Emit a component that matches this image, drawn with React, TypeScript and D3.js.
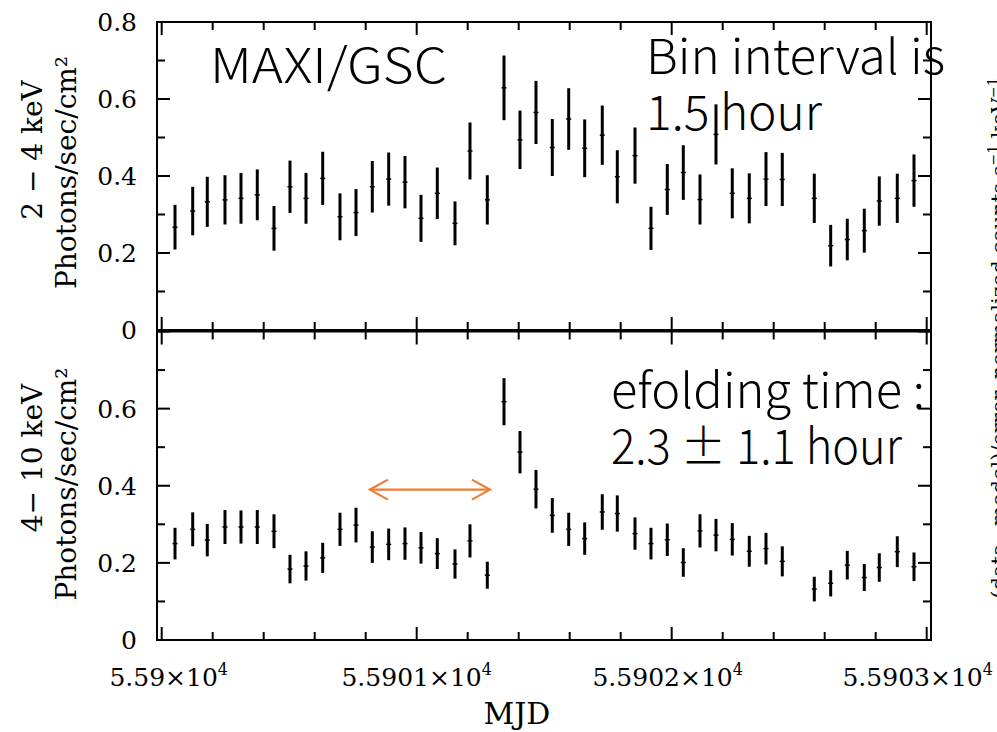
import React from 'react';
import * as d3 from 'd3';

// ---- data ----
const mjd = [
  55900.0522, 55900.1216, 55900.1788, 55900.2482, 55900.311, 55900.3749, 55900.4404, 55900.5031, 55900.5659,
  55900.6314, 55900.6992, 55900.762, 55900.8259, 55900.8902, 55900.9541, 55901.0169, 55901.0808, 55901.1502,
  55901.209, 55901.2769, 55901.3424, 55901.4051, 55901.4678, 55901.5318, 55901.5961, 55901.6588, 55901.7278,
  55901.7867, 55901.8561, 55901.9188, 55901.9827, 55902.0455, 55902.111, 55902.1737, 55902.2376, 55902.3043,
  55902.3698, 55902.4337, 55902.5592, 55902.6235, 55902.6886, 55902.7553, 55902.8141, 55902.8847, 55902.9502,
];
const soft = [
  0.267, 0.309, 0.333, 0.338, 0.342, 0.351, 0.264, 0.372, 0.342, 0.394, 0.294, 0.305, 0.372, 0.392, 0.384,
  0.29, 0.355, 0.277, 0.465, 0.338, 0.629, 0.494, 0.565, 0.474, 0.548, 0.472, 0.506, 0.398, 0.453, 0.264,
  0.365, 0.409, 0.339, 0.508, 0.355, 0.342, 0.392, 0.391, 0.342, 0.219, 0.235, 0.258, 0.335, 0.342, 0.388,
];
const softErr = [
  0.058, 0.063, 0.065, 0.064, 0.066, 0.066, 0.058, 0.068, 0.066, 0.069, 0.061, 0.061, 0.067, 0.069, 0.068,
  0.061, 0.067, 0.057, 0.074, 0.064, 0.084, 0.076, 0.082, 0.074, 0.08, 0.075, 0.077, 0.069, 0.073, 0.056,
  0.066, 0.071, 0.065, 0.078, 0.065, 0.065, 0.07, 0.069, 0.064, 0.054, 0.054, 0.057, 0.064, 0.064, 0.068,
];
const hard = [
  0.25, 0.287, 0.259, 0.293, 0.293, 0.293, 0.282, 0.184, 0.192, 0.213, 0.287, 0.298, 0.241, 0.248, 0.25,
  0.239, 0.224, 0.197, 0.257, 0.168, 0.618, 0.487, 0.391, 0.323, 0.287, 0.263, 0.332, 0.328, 0.276, 0.25,
  0.26, 0.201, 0.283, 0.272, 0.261, 0.23, 0.237, 0.204, 0.132, 0.147, 0.194, 0.162, 0.188, 0.229, 0.19,
];
const hardErr = [
  0.041, 0.044, 0.042, 0.044, 0.043, 0.044, 0.044, 0.037, 0.038, 0.039, 0.043, 0.045, 0.041, 0.041, 0.042,
  0.041, 0.04, 0.038, 0.043, 0.035, 0.061, 0.055, 0.05, 0.045, 0.043, 0.042, 0.046, 0.047, 0.042, 0.041,
  0.042, 0.037, 0.043, 0.042, 0.042, 0.04, 0.041, 0.039, 0.032, 0.034, 0.037, 0.035, 0.037, 0.04, 0.037,
];
const xMajorTicks = [55900, 55901, 55902, 55903];
const xTickMantissa = ['5.59', '5.5901', '5.5902', '5.5903'];
const yMajorTicks = [0, 0.2, 0.4, 0.6, 0.8];
const yMinorTicks = [0.1, 0.3, 0.5, 0.7];
const topYLabels = ['0', '0.2', '0.4', '0.6', '0.8'];
const bottomYLabels = ['0', '0.2', '0.4', '0.6'];
const arrowSpan = [55900.8165, 55901.287];
const arrowLevel = 0.39;

// ---- layout ----
const W = 997;
const H = 732;
const X0 = 157;
const X1 = 931;
const SERIF = "'DejaVu Serif', serif";
const SANS = "'Noto Sans CJK JP', 'Noto Sans', sans-serif";
const ORANGE = '#ED7D31';
const xLabelDx = [7, 0, -4, -9];

const x = d3.scaleLinear().domain([55899.9816, 55903.0169]).range([X0, X1]);
const yTop = d3.scaleLinear().domain([0, 0.8]).range([330, 22]);
const yBot = d3.scaleLinear().domain([0, 0.8]).range([640, 331.5]);

const xMinor = d3.range(0, 16).filter((i) => i % 5 !== 0).map((i) => 55900 + i * 0.2);

function Panel({ y, values, errs, labels }) {
  const [yb, yt] = y.range();
  return (
    <g>
      <rect x={X0} y={yt} width={X1 - X0} height={yb - yt} fill="none" stroke="#000" strokeWidth={2} />
      {xMajorTicks.map((t) => (
        <g key={'M' + t}>
          <line x1={x(t)} x2={x(t)} y1={yt} y2={yt + 13} stroke="#000" strokeWidth={2} />
          <line x1={x(t)} x2={x(t)} y1={yb} y2={yb - 13} stroke="#000" strokeWidth={2} />
        </g>
      ))}
      {xMinor.map((t) => (
        <g key={'m' + t}>
          <line x1={x(t)} x2={x(t)} y1={yt} y2={yt + 8} stroke="#000" strokeWidth={2} />
          <line x1={x(t)} x2={x(t)} y1={yb} y2={yb - 8} stroke="#000" strokeWidth={2} />
        </g>
      ))}
      {yMajorTicks.map((v) => (
        <g key={'Y' + v}>
          <line x1={X0} x2={X0 + 13} y1={y(v)} y2={y(v)} stroke="#000" strokeWidth={2} />
          <line x1={X1} x2={X1 - 13} y1={y(v)} y2={y(v)} stroke="#000" strokeWidth={2} />
        </g>
      ))}
      {yMinorTicks.map((v) => (
        <g key={'y' + v}>
          <line x1={X0} x2={X0 + 8} y1={y(v)} y2={y(v)} stroke="#000" strokeWidth={2} />
          <line x1={X1} x2={X1 - 8} y1={y(v)} y2={y(v)} stroke="#000" strokeWidth={2} />
        </g>
      ))}
      {labels.map((l, i) => (
        <text key={'L' + l} x={137} y={y(yMajorTicks[i])} dy="0.36em" textAnchor="end"
          fontFamily={SERIF} fontSize={25} fill="#000">{l}</text>
      ))}
      {mjd.map((t, i) => (
        <g key={'d' + i}>
          <line x1={x(t)} x2={x(t)} y1={y(values[i] - errs[i])} y2={y(values[i] + errs[i])}
            stroke="#000" strokeWidth={3} />
          <line x1={x(t) - 2.5} x2={x(t) + 2.5} y1={y(values[i])} y2={y(values[i])} stroke="#000" strokeWidth={1.5} />
        </g>
      ))}
    </g>
  );
}

function YTitle({ lines, cx, cy }) {
  return (
    <g fontFamily={SERIF} fontSize={28} fill="#000">
      {lines.map((l, i) => (
        <text key={i} transform={`translate(${cx[i]},${cy[i]}) rotate(-90)`} textAnchor="middle">{l}</text>
      ))}
    </g>
  );
}

export default function App() {
  const ay = yBot(arrowLevel);
  const ax0 = x(arrowSpan[0]);
  const ax1 = x(arrowSpan[1]);
  return (
    <svg width={W} height={H} viewBox={`0 0 ${W} ${H}`}
      style={{ position: 'absolute', left: 0, top: 0, background: '#fff' }}>
      <rect x={0} y={0} width={W} height={H} fill="#fff" />
      <Panel y={yTop} values={soft} errs={softErr} labels={topYLabels} />
      <Panel y={yBot} values={hard} errs={hardErr} labels={bottomYLabels} />

      {xMajorTicks.map((t, i) => (
        <text key={'xl' + t} x={x(t) + xLabelDx[i]} y={686} textAnchor="middle" fontFamily={SERIF} fontSize={25} fill="#000">
          {xTickMantissa[i]}×10<tspan fontSize={16} dy={-11}>4</tspan>
        </text>
      ))}
      <text x={517} y={724} textAnchor="middle" fontFamily={SERIF} fontSize={30} fill="#000">MJD</text>

      <YTitle lines={['2 − 4 keV', 'Photons/sec/cm²']} cx={[42, 76]} cy={[150, 172.5]} />
      <YTitle lines={['4− 10 keV', 'Photons/sec/cm²']} cx={[42, 76]} cy={[458, 484]} />

      <text transform="translate(1006,338) rotate(-90)" textAnchor="middle" fontFamily={SERIF} fontSize={21} fill="#000">
        (data−model)/error, normalized counts s<tspan fontSize={14} dy={-8}>−1</tspan><tspan dy={8}> keV</tspan><tspan fontSize={14} dy={-8}>−1</tspan>
      </text>

      <g fontFamily={SANS} fontWeight={300} fontSize={48} fill="#000">
        <text x={210} y={83} textLength={237} lengthAdjust="spacingAndGlyphs">MAXI/GSC</text>
        <text x={646} y={74} textLength={299} lengthAdjust="spacingAndGlyphs">Bin interval is</text>
        <text x={646} y={130} textLength={176} lengthAdjust="spacingAndGlyphs">1.5 hour</text>
        <text x={611} y={408} textLength={314} lengthAdjust="spacingAndGlyphs">efolding time :</text>
        <text x={611} y={464} textLength={291} lengthAdjust="spacingAndGlyphs">2.3 ± 1.1 hour</text>
      </g>

      <g stroke={ORANGE} strokeWidth={2.2} fill="none">
        <line x1={ax0} x2={ax1} y1={ay} y2={ay} />
        <polyline points={`${ax0 + 18},${ay - 10} ${ax0},${ay} ${ax0 + 18},${ay + 10}`} />
        <polyline points={`${ax1 - 18},${ay - 10} ${ax1},${ay} ${ax1 - 18},${ay + 10}`} />
      </g>
    </svg>
  );
}
